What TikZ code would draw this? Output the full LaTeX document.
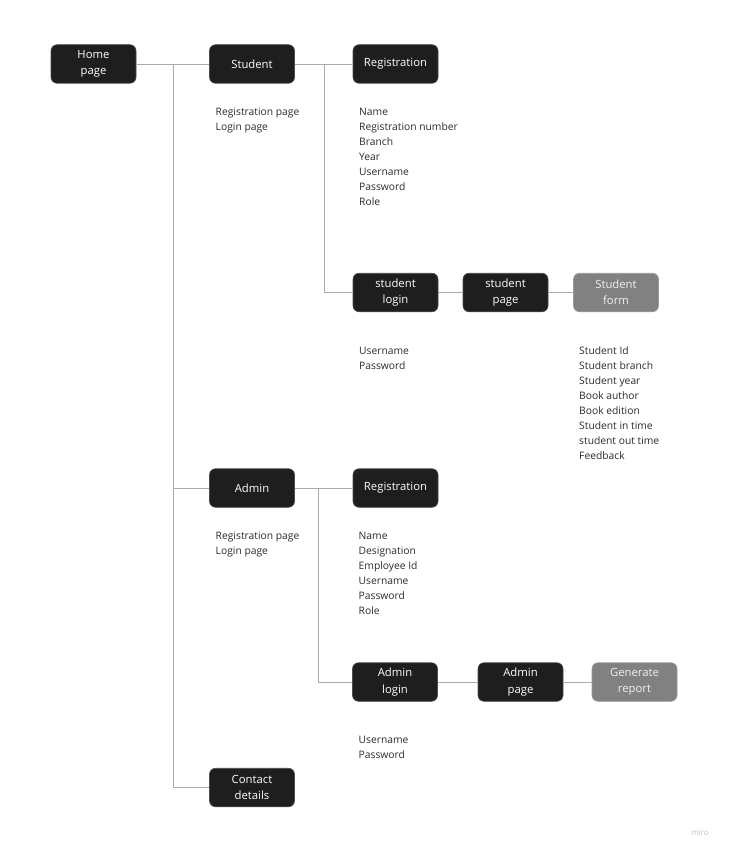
\documentclass[tikz,border=0pt]{standalone}
\usepackage{fontspec}
\setmainfont{Open Sans}
\definecolor{boxdark}{HTML}{1E1E1E}
\definecolor{boxgrey}{HTML}{818181}
\definecolor{linecol}{HTML}{ABABAB}
\definecolor{labcol}{HTML}{2B2B2B}
\definecolor{mirocol}{HTML}{C4C4CC}
\begin{document}
\begin{tikzpicture}[x=1pt,y=-1pt,
  darkbox/.style={draw=boxdark!80!white,line width=0.6pt,fill=boxdark,rounded corners=6pt,
    minimum width=85pt,minimum height=38.5pt,inner sep=0pt,align=center,text=white,
    font=\fontsize{11.3}{16.5}\selectfont},
  greybox/.style={darkbox,fill=boxgrey,draw=boxgrey!80!white,text=white!94!black},
  lab/.style={anchor=base west,inner sep=0pt,align=left,text=labcol,
    font=\fontsize{10.3}{15}\selectfont},
  conn/.style={draw=linecol,line width=0.8pt}]
\useasboundingbox (0,0) rectangle (729,853);
\fill[white] (0,0) rectangle (729,853);
% boxes
\node[darkbox] (home) at (93.5,64) {Home\\page};
\node[darkbox] (student) at (252,64) {Student};
\node[darkbox] (sreg) at (395.5,64) {Registration};
\node[darkbox] (slogin) at (395.5,292.5) {student\\login};
\node[darkbox] (spage) at (505.5,292.5) {student\\page};
\node[greybox] (sform) at (616,292.5) {Student\\form};
\node[darkbox] (admin) at (252,488) {Admin};
\node[darkbox] (areg) at (395.5,488) {Registration};
\node[darkbox] (alogin) at (395,682) {Admin\\login};
\node[darkbox] (apage) at (520.5,682) {Admin\\page};
\node[greybox] (arep) at (634.5,682) {Generate\\report};
\node[darkbox] (contact) at (252,787.5) {Contact\\details};
% junctions
\coordinate (j1) at (173,64);
\coordinate (j2) at (324,64);
\coordinate (j3) at (173,488);
\coordinate (j4) at (318.5,488);
\coordinate (j5) at (173,787.5);
% connectors
\draw[conn] (home) -- (student);
\draw[conn] (j1) -- (j5);
\draw[conn] (j3) -- (admin);
\draw[conn] (j5) -- (contact);
\draw[conn] (student) -- (sreg);
\draw[conn] (j2) |- (slogin);
\draw[conn] (slogin) -- (spage);
\draw[conn] (spage) -- (sform);
\draw[conn] (admin) -- (areg);
\draw[conn] (j4) |- (alogin);
\draw[conn] (alogin) -- (apage);
\draw[conn] (apage) -- (arep);
% labels (anchored at the baseline of their last line)
\node[lab] (stulab) at (215.5,130.4) {Registration page\\Login page};
\node[lab] (sreglab) at (359,205.4) {Name\\Registration number\\Branch\\Year\\Username\\Password\\Role};
\node[lab] (sloglab) at (359,369.4) {Username\\Password};
\node[lab] (sformlab) at (579,459.4) {Student Id\\Student branch\\Student year\\Book author\\Book edition\\Student in time\\student out time\\Feedback};
\node[lab] (admlab) at (215.5,554) {Registration page\\Login page};
\node[lab] (areglab) at (358.5,614) {Name\\Designation\\Employee Id\\Username\\Password\\Role};
\node[lab] (aloglab) at (358.5,758.7) {Username\\Password};
\node[text=mirocol,inner sep=0pt,font=\fontsize{8}{9}\selectfont] (miro) at (700,832.5) {miro};
\end{tikzpicture}
\end{document}
